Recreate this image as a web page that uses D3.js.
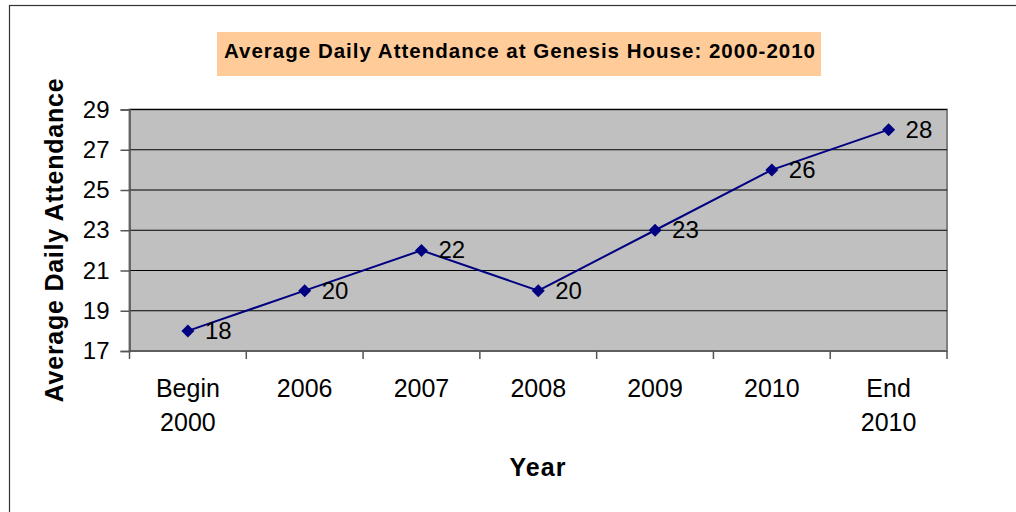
<!DOCTYPE html>
<html>
<head>
<meta charset="utf-8">
<script src="https://cdn.jsdelivr.net/npm/d3@7/dist/d3.min.js"></script>
<style>
  html, body { margin: 0; padding: 0; background: #fff; }
  svg { display: block; font-family: "Liberation Sans", Arial, sans-serif; }
</style>
</head>
<body>
<svg id="chart" width="1016" height="512"></svg>
<script>
// data
var categories = [["Begin", "2000"], ["2006"], ["2007"], ["2008"], ["2009"], ["2010"], ["End", "2010"]];
var attendance = [18, 20, 22, 20, 23, 26, 28];
var yTicks = [17, 19, 21, 23, 25, 27, 29];

var svg = d3.select("#chart");
var plot = { left: 129.5, top: 109.5, right: 947, bottom: 351 };

// outer chart border
svg.append("rect")
  .attr("x", 9.5).attr("y", 5.5)
  .attr("width", 1030).attr("height", 540)
  .attr("fill", "#fff").attr("stroke", "#333").attr("stroke-width", 1.2);

// title box
svg.append("rect")
  .attr("x", 217).attr("y", 32).attr("width", 604).attr("height", 44)
  .attr("fill", "#FFCC99");
svg.append("text")
  .attr("x", 224).attr("y", 58)
  .attr("font-size", 20.5).attr("font-weight", "bold")
  .attr("textLength", 591).attr("lengthAdjust", "spacing")
  .text("Average Daily Attendance at Genesis House: 2000-2010");

var x = d3.scaleBand()
  .domain(d3.range(categories.length))
  .range([plot.left, plot.right]);
var y = d3.scaleLinear().domain([17, 29]).range([plot.bottom, plot.top]);

// plot background
svg.append("rect")
  .attr("x", plot.left).attr("y", plot.top)
  .attr("width", plot.right - plot.left).attr("height", plot.bottom - plot.top)
  .attr("fill", "#C0C0C0").attr("stroke", "#808080").attr("stroke-width", 2);

// gridlines
svg.append("g").selectAll("line")
  .data(yTicks.slice(1))
  .enter().append("line")
  .attr("x1", plot.left).attr("x2", plot.right)
  .attr("y1", function (d) { return y(d); })
  .attr("y2", function (d) { return y(d); })
  .attr("stroke", "#000").attr("stroke-width", 1);

// y axis
var yAxis = svg.append("g")
  .attr("transform", "translate(" + plot.left + ",0)")
  .call(d3.axisLeft(y).tickValues(yTicks).tickSize(9).tickPadding(11));
yAxis.select(".domain").attr("stroke", "#555").attr("stroke-width", 1.5);
yAxis.selectAll(".tick line").attr("stroke", "#555").attr("stroke-width", 1.5);
yAxis.selectAll("text")
  .attr("font-size", 24).attr("fill", "#000")
  .attr("font-family", "'Liberation Sans', Arial, sans-serif");

// x axis with ticks at category boundaries
var xAxis = svg.append("g");
xAxis.append("line")
  .attr("x1", plot.left).attr("x2", plot.right)
  .attr("y1", plot.bottom).attr("y2", plot.bottom)
  .attr("stroke", "#555").attr("stroke-width", 1.5);
xAxis.selectAll(".xtick")
  .data(d3.range(categories.length + 1))
  .enter().append("line")
  .attr("class", "xtick")
  .attr("x1", function (i) { return plot.left + i * x.step(); })
  .attr("x2", function (i) { return plot.left + i * x.step(); })
  .attr("y1", plot.bottom).attr("y2", plot.bottom + 8)
  .attr("stroke", "#555").attr("stroke-width", 1.5);
var xLabels = xAxis.selectAll(".xlabel")
  .data(categories)
  .enter().append("text")
  .attr("class", "xlabel")
  .attr("text-anchor", "middle")
  .attr("font-size", 25);
xLabels.selectAll("tspan")
  .data(function (d, i) { return d.map(function (t) { return { t: t, i: i }; }); })
  .enter().append("tspan")
  .attr("x", function (d) { return x(d.i) + x.bandwidth() / 2; })
  .attr("y", function (d, j) { return 397 + j * 34; })
  .text(function (d) { return d.t; });

// axis titles
svg.append("text")
  .attr("transform", "translate(63,240) rotate(-90)")
  .attr("text-anchor", "middle")
  .attr("font-size", 25).attr("font-weight", "bold")
  .attr("letter-spacing", 0.75)
  .text("Average Daily Attendance");
svg.append("text")
  .attr("x", 538).attr("y", 476)
  .attr("text-anchor", "middle")
  .attr("font-size", 25).attr("font-weight", "bold")
  .attr("letter-spacing", 1)
  .text("Year");

// series line
var cx = function (d, i) { return x(i) + x.bandwidth() / 2; };
svg.append("path")
  .datum(attendance)
  .attr("fill", "none").attr("stroke", "#000080").attr("stroke-width", 2)
  .attr("d", d3.line().x(cx).y(function (d) { return y(d); }));

svg.append("g").selectAll("path")
  .data(attendance)
  .enter().append("path")
  .attr("transform", function (d, i) { return "translate(" + cx(d, i) + "," + y(d) + ")"; })
  .attr("d", "M0,-6.5L6.5,0L0,6.5L-6.5,0Z")
  .attr("fill", "#000080");

svg.append("g").selectAll("text")
  .data(attendance)
  .enter().append("text")
  .attr("x", function (d, i) { return cx(d, i) + 17; })
  .attr("y", function (d) { return y(d) + 8; })
  .attr("font-size", 24)
  .text(function (d) { return d; });
</script>
</body>
</html>
